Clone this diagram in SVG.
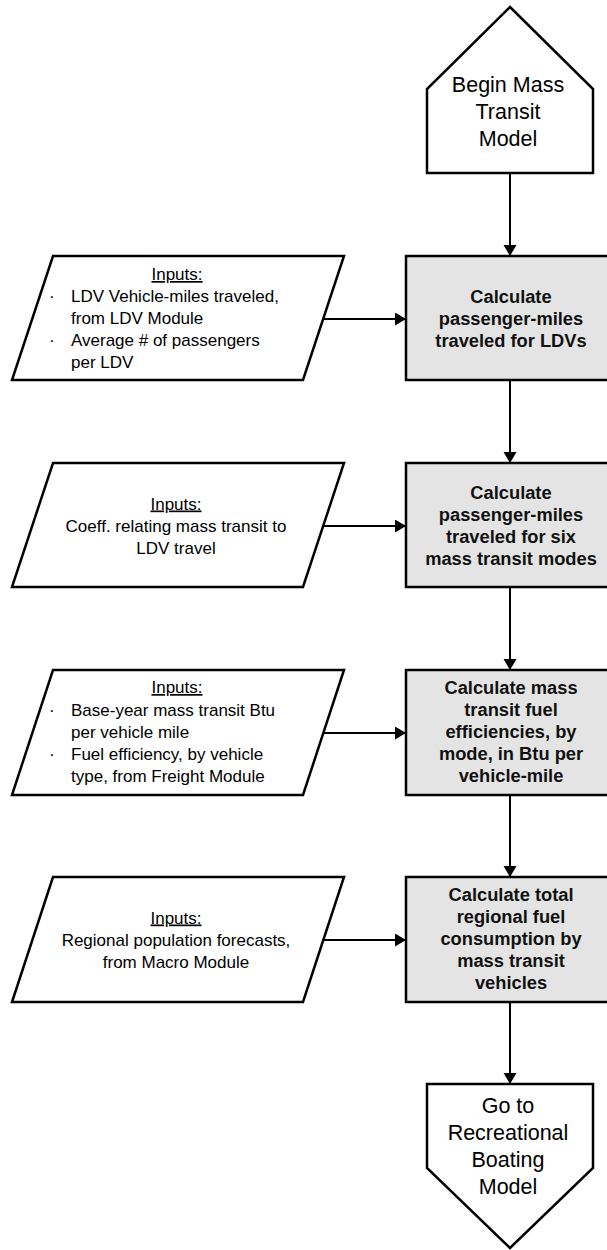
<svg xmlns="http://www.w3.org/2000/svg" width="607" height="1250" viewBox="0 0 607 1250">
<style>
.shape{fill:#fff;stroke:#000;stroke-width:2.5;stroke-linejoin:miter}
.proc{fill:#e4e4e4;stroke:#000;stroke-width:2.5}
.term{font-family:"Liberation Sans",Arial,sans-serif;font-size:21.5px;text-anchor:middle;fill:#000}
.bold{font-family:"Liberation Sans",Arial,sans-serif;font-size:18.3px;font-weight:bold;text-anchor:middle;fill:#111}
.inp{font-family:"Liberation Sans",Arial,sans-serif;font-size:17px;fill:#000}
.c{text-anchor:middle}
.u{text-decoration:underline}
.conn{stroke:#000;stroke-width:2;fill:none;marker-end:url(#arr)}
</style>
<defs>
<marker id="arr" markerUnits="userSpaceOnUse" markerWidth="12" markerHeight="14" refX="11" refY="6.5" orient="auto">
<path d="M0,0 L11,6.5 L0,13 z" fill="#000"/>
</marker>
</defs>

<g id="connectors">
<line class="conn" x1="510" y1="173" x2="510" y2="256"/>
<line class="conn" x1="323" y1="319" x2="406" y2="319"/>
<line class="conn" x1="510" y1="380" x2="510" y2="463"/>
<line class="conn" x1="323" y1="526" x2="406" y2="526"/>
<line class="conn" x1="510" y1="587" x2="510" y2="670"/>
<line class="conn" x1="323" y1="733" x2="406" y2="733"/>
<line class="conn" x1="510" y1="795" x2="510" y2="877"/>
<line class="conn" x1="323" y1="940" x2="406" y2="940"/>
<line class="conn" x1="510" y1="1002" x2="510" y2="1084"/>
</g>

<g id="begin">
<polygon class="shape" points="510,7 593,89 593,173 427,173 427,89"/>
<text class="term" x="508" y="91.5">Begin Mass</text>
<text class="term" x="508" y="118.5">Transit</text>
<text class="term" x="508" y="145.5">Model</text>
</g>

<g id="input1">
<polygon class="shape" points="53,256 344,256 303,380 12,380"/>
<text class="inp c u" x="177" y="280">Inputs:</text>
<text class="inp" x="49" y="302">·</text>
<text class="inp" x="71" y="302">LDV Vehicle-miles traveled,</text>
<text class="inp" x="71" y="324">from LDV Module</text>
<text class="inp" x="49" y="346">·</text>
<text class="inp" x="71" y="346">Average # of passengers</text>
<text class="inp" x="71" y="368">per LDV</text>
</g>

<g id="calc1">
<rect class="proc" x="406" y="256" width="212" height="124"/>
<text class="bold" x="511" y="302.5">Calculate</text>
<text class="bold" x="511" y="324.5">passenger-miles</text>
<text class="bold" x="511" y="346.5">traveled for LDVs</text>
</g>

<g id="input2">
<polygon class="shape" points="53,463 344,463 303,587 12,587"/>
<text class="inp c u" x="176" y="509.5">Inputs:</text>
<text class="inp c" x="176" y="531.5">Coeff. relating mass transit to</text>
<text class="inp c" x="176" y="553.5">LDV travel</text>
</g>

<g id="calc2">
<rect class="proc" x="406" y="463" width="212" height="124"/>
<text class="bold" x="511" y="498.5">Calculate</text>
<text class="bold" x="511" y="520.5">passenger-miles</text>
<text class="bold" x="511" y="542.5">traveled for six</text>
<text class="bold" x="511" y="564.5">mass transit modes</text>
</g>

<g id="input3">
<polygon class="shape" points="53,670 344,670 303,795 12,795"/>
<text class="inp c u" x="177" y="693">Inputs:</text>
<text class="inp" x="49" y="715.5">·</text>
<text class="inp" x="71" y="715.5">Base-year mass transit Btu</text>
<text class="inp" x="71" y="738">per vehicle mile</text>
<text class="inp" x="49" y="760">·</text>
<text class="inp" x="71" y="760">Fuel efficiency, by vehicle</text>
<text class="inp" x="71" y="782">type, from Freight Module</text>
</g>

<g id="calc3">
<rect class="proc" x="406" y="670" width="212" height="125"/>
<text class="bold" x="511" y="693.5">Calculate mass</text>
<text class="bold" x="511" y="715.5">transit fuel</text>
<text class="bold" x="511" y="738">efficiencies, by</text>
<text class="bold" x="511" y="760">mode, in Btu per</text>
<text class="bold" x="511" y="782">vehicle-mile</text>
</g>

<g id="input4">
<polygon class="shape" points="53,877 344,877 303,1002 12,1002"/>
<text class="inp c u" x="176" y="923.5">Inputs:</text>
<text class="inp c" x="176" y="945.5">Regional population forecasts,</text>
<text class="inp c" x="176" y="967.5">from Macro Module</text>
</g>

<g id="calc4">
<rect class="proc" x="406" y="877" width="212" height="125"/>
<text class="bold" x="511" y="900.5">Calculate total</text>
<text class="bold" x="511" y="922.5">regional fuel</text>
<text class="bold" x="511" y="945">consumption by</text>
<text class="bold" x="511" y="967">mass transit</text>
<text class="bold" x="511" y="989">vehicles</text>
</g>

<g id="end">
<polygon class="shape" points="427,1084 593,1084 593,1168 510,1248 427,1168"/>
<text class="term" x="508" y="1113">Go to</text>
<text class="term" x="508" y="1140">Recreational</text>
<text class="term" x="508" y="1167">Boating</text>
<text class="term" x="508" y="1194">Model</text>
</g>
</svg>
